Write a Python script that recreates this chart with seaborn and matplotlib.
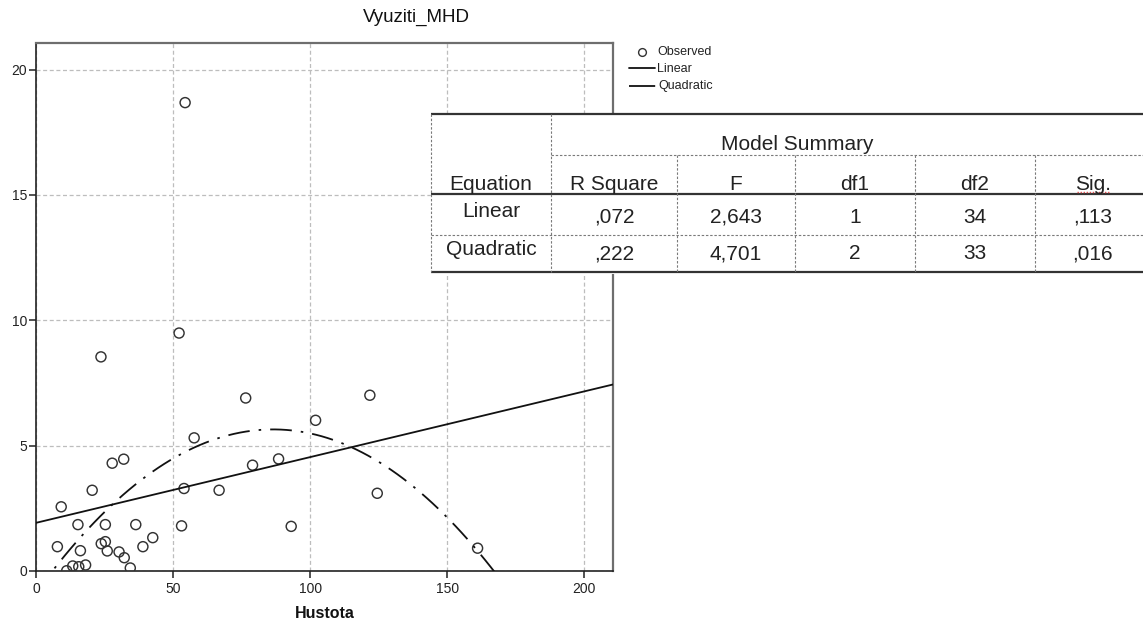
import numpy as np
import pandas as pd
import matplotlib
matplotlib.use("Agg")
import matplotlib.pyplot as plt
import seaborn as sns
from matplotlib.patches import Rectangle

# ---------------- data ----------------
hustota = [54.4, 52.2, 23.7, 76.5, 121.8, 102.0, 57.7, 79.0, 88.5, 32.0,
           27.8, 54.0, 66.8, 20.5, 124.5, 9.2, 25.3, 15.3, 36.4, 53.1,
           93.1, 42.6, 39.0, 7.8, 23.8, 25.3, 16.2, 26.0, 30.3, 32.2,
           34.4, 18.1, 13.4, 15.6, 11.2, 161.1]
vyuziti_mhd = [18.68, 9.49, 8.54, 6.90, 7.01, 6.01, 5.31, 4.22, 4.47, 4.46,
               4.30, 3.29, 3.22, 3.22, 3.10, 2.56, 1.85, 1.85, 1.85, 1.80,
               1.78, 1.33, 0.97, 0.97, 1.09, 1.17, 0.81, 0.80, 0.76, 0.53,
               0.12, 0.24, 0.20, 0.17, 0.01, 0.91]
x_ticks = [0, 50, 100, 150, 200]
y_ticks = [0, 5, 10, 15, 20]
legend_labels = ["Observed", "Linear", "Quadratic"]

table_title = "Model Summary"
table_columns = ["Equation", "R Square", "F", "df1", "df2", "Sig."]
table_equations = ["Linear", "Quadratic"]
table_r_square = [",072", ",222"]
table_f = ["2,643", "4,701"]
table_df1 = ["1", "2"]
table_df2 = ["34", "33"]
table_sig = [",113", ",016"]

df = pd.DataFrame({"Hustota": hustota, "Vyuziti_MHD": vyuziti_mhd})

# ---------------- style ----------------
sns.set_theme(style="white")
plt.rcParams['font.family'] = ['Liberation Sans', 'DejaVu Sans']

W, H = 1143, 628
fig = plt.figure(figsize=(W / 100, H / 100), dpi=100)
fig.patch.set_facecolor("white")

# axes box in pixel coordinates of the reference
left, right, top, bottom = 36, 613, 42.7, 571
ax = fig.add_axes([left / W, 1 - bottom / H, (right - left) / W, (bottom - top) / H])
XMAX, YMAX = 210.5, 21.07
ax.set_xlim(0, XMAX)
ax.set_ylim(0, YMAX)

ax.set_xticks(x_ticks)
ax.set_yticks(y_ticks)
ax.set_xticklabels([str(t) for t in x_ticks])
ax.set_yticklabels([str(t) for t in y_ticks])
ax.grid(True, color="#bdbdbd", linewidth=0.9, linestyle=(0, (3.2, 2.1)))
ax.set_axisbelow(True)
ax.tick_params(axis="both", which="both", bottom=True, left=True, direction="out",
               length=5, width=1.1, color="#222222", labelsize=10,
               labelcolor="#222222")
ax.tick_params(axis="y", pad=1.5)
ax.tick_params(axis="x", pad=3)
for s in ["left", "bottom"]:
    ax.spines[s].set_color("#222222")
    ax.spines[s].set_linewidth(1.2)
for s in ["top", "right"]:
    ax.spines[s].set_color("#6e6e6e")
    ax.spines[s].set_linewidth(1.6)

# observed points
sns.scatterplot(data=df, x="Hustota", y="Vyuziti_MHD", ax=ax, marker="o", s=52,
                facecolor="none", edgecolor="#333333", linewidth=1.05, zorder=3,
                legend=False)
# linear fit
sns.regplot(data=df, x="Hustota", y="Vyuziti_MHD", ax=ax, scatter=False, ci=None,
            truncate=False, order=1, color="#111111",
            line_kws=dict(linewidth=1.3, zorder=4))
# quadratic fit
sns.regplot(data=df, x="Hustota", y="Vyuziti_MHD", ax=ax, scatter=False, ci=None,
            truncate=False, order=2, color="#111111",
            line_kws=dict(linewidth=1.3, dashes=(12, 5, 1.4, 5), zorder=4))
ax.set_xlim(0, XMAX)
ax.set_ylim(0, YMAX)
ax.set_xlabel("")
ax.set_ylabel("")

# title & axis label
fig.text(416 / W, 1 - 17 / H, "Vyuziti_MHD", ha="center", va="center",
         fontsize=13.5, color="#111111")
fig.text((left + right) / 2 / W, 1 - 614 / H, "Hustota", ha="center", va="center",
         fontsize=11.5, fontweight="bold", color="#111111")

# ---------------- overlay (legend + table) in pixel coords ----------------
ov = fig.add_axes([0, 0, 1, 1], zorder=10)
ov.set_xlim(0, W)
ov.set_ylim(H, 0)
ov.axis("off")
ov.patch.set_alpha(0)

txtc = "#222222"
# legend
ov.plot([641.7], [51.5], marker="o", markersize=5.6, markerfacecolor="none",
        markeredgecolor="#333333", markeredgewidth=1.0, linestyle="none")
ov.text(657, 52, legend_labels[0], ha="left", va="center", fontsize=9, color=txtc)
ov.plot([629, 655], [68.3, 68.3], color="#111111", linewidth=1.3)
ov.text(656.5, 68.5, legend_labels[1], ha="left", va="center", fontsize=9, color=txtc)
ov.plot([629, 657], [85.5, 85.5], color="#111111", linewidth=1.3,
        dashes=(14.5, 4, 1.4, 5))
ov.text(658, 85.5, legend_labels[2], ha="left", va="center", fontsize=9, color=txtc)

# table
tl, tr, tt, tb = 431, 1143, 114, 272.3
ov.add_patch(Rectangle((tl, tt - 1), tr - tl + 5, tb - tt + 3, facecolor="white",
                       edgecolor="none"))
col_x = [431, 551, 677, 795, 915, 1035, 1151]
thick = dict(color="#333333", linewidth=1.6, solid_capstyle="butt")
dash = dict(color="#7a7a7a", linewidth=0.8, dashes=(2.2, 1.6))
for yy in [tt, 194.3, tb]:
    ov.plot([tl, tr], [yy, yy], **thick)
ov.plot([551, tr], [155, 155], **dash)
ov.plot([tl, tr], [235, 235], **dash)
ov.plot([431, 431], [tt, tb], **dash)
ov.plot([551, 551], [tt, tb], **dash)
for cx in col_x[2:6]:
    ov.plot([cx, cx], [155, tb], **dash)

fs = 15
ov.text(797, 149.5, table_title, ha="center", va="baseline", fontsize=fs, color=txtc)
centers = [(col_x[i] + col_x[i + 1]) / 2 for i in range(6)]
for c, lab in zip(centers, table_columns):
    ov.text(c, 189.5, lab, ha="center", va="baseline", fontsize=fs, color=txtc)
# red spell-check squiggle under "Sig."
ov.plot([1077, 1110], [191.5, 191.5], color="#e05050", linewidth=1.0,
        linestyle=(0, (1, 1.2)))

rows = [table_r_square, table_f, table_df1, table_df2, table_sig]
eq_base = [217.3, 255]
num_base = [222.7, 259.3]
for r in range(2):
    ov.text(centers[0], eq_base[r], table_equations[r], ha="center", va="baseline",
            fontsize=fs, color=txtc)
    for ci, col in enumerate(rows):
        ov.text(centers[ci + 1], num_base[r], col[r], ha="center", va="baseline",
                fontsize=fs, color=txtc)

fig.savefig("out.png", dpi=100, facecolor="white")
